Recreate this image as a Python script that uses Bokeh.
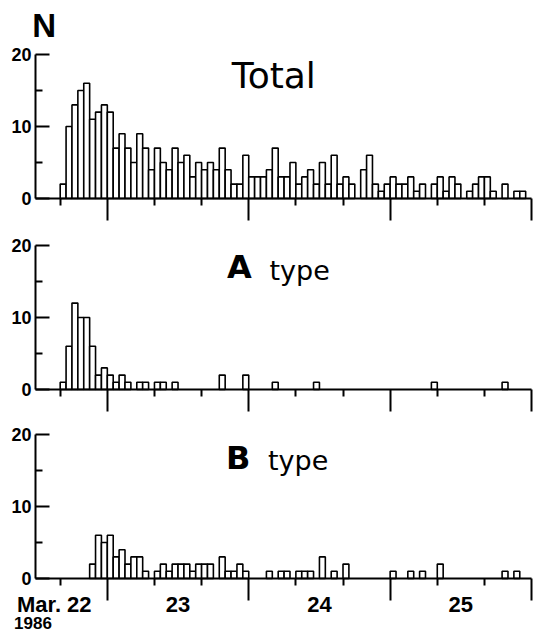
from bokeh.plotting import figure
from bokeh.layouts import column
from bokeh.models import Range1d, FixedTicker, Label, ColumnDataSource, LinearAxis
from bokeh.embed import file_html
from bokeh.resources import INLINE

# hourly bins (start hour; hour 0 = Mar. 23, 00:00)
hours = list(range(-8, 72))

total = [2, 10, 13, 15, 16, 11, 12, 13, 12, 7,
         9, 7, 5, 9, 7, 4, 7, 5, 4, 7,
         5, 6, 3, 5, 4, 5, 4, 7, 4, 2,
         2, 6, 3, 3, 3, 4, 7, 3, 3, 5,
         2, 3, 4, 2, 5, 2, 6, 2, 3, 2,
         0, 4, 6, 2, 1, 2, 3, 2, 2, 3,
         1, 2, 0, 2, 3, 1, 3, 2, 0, 1,
         2, 3, 3, 1, 0, 2, 0, 1, 1, 0]

a_type = [1, 6, 12, 10, 10, 6, 2, 3, 2, 1,
          2, 1, 0, 1, 1, 0, 1, 1, 0, 1,
          0, 0, 0, 0, 0, 0, 0, 2, 0, 0,
          0, 2, 0, 0, 0, 0, 1, 0, 0, 0,
          0, 0, 0, 1, 0, 0, 0, 0, 0, 0,
          0, 0, 0, 0, 0, 0, 0, 0, 0, 0,
          0, 0, 0, 1, 0, 0, 0, 0, 0, 0,
          0, 0, 0, 0, 0, 1, 0, 0, 0, 0]

b_type = [0, 0, 0, 0, 0, 2, 6, 5, 6, 3,
          4, 2, 3, 3, 1, 0, 1, 2, 1, 2,
          2, 2, 1, 2, 2, 2, 0, 3, 1, 1,
          2, 1, 0, 0, 0, 1, 0, 1, 1, 0,
          1, 1, 1, 0, 3, 0, 1, 0, 2, 0,
          0, 0, 0, 0, 0, 0, 1, 0, 0, 1,
          0, 1, 0, 0, 2, 0, 0, 0, 0, 0,
          0, 0, 0, 0, 0, 1, 0, 1, 0, 0]

day_ticks = [-9, 12, 36, 60]
day_labels = ["Mar. 22", "23", "24", "25"]
major_x = [0, 24, 48, 72]
minor_x = [-8, 8, 16, 32, 40, 56, 64]
y_major = [0, 10, 20]
y_minor = [5, 15]

W = 534
X_LO, X_HI = -18.13, 72.50
AXIS_X = -12.19


def panel(values, height, y_lo, y_hi):
    p = figure(width=W, height=height, output_backend="svg", toolbar_location=None,
               x_range=Range1d(X_LO, X_HI), y_range=Range1d(y_lo, y_hi),
               x_axis_type=None, y_axis_type=None,
               min_border=0, min_border_left=0, min_border_right=0,
               min_border_top=0, min_border_bottom=0)
    p.outline_line_color = None
    p.grid.visible = False
    p.background_fill_color = "white"
    p.border_fill_color = "white"
    src = ColumnDataSource(dict(
        left=[h for h, v in zip(hours, values) if v > 0],
        right=[h + 1 for h, v in zip(hours, values) if v > 0],
        top=[v for v in values if v > 0]))
    p.quad(left="left", right="right", bottom=0, top="top", source=src,
           fill_color="white", line_color="black", line_width=1.6)

    xa = LinearAxis(fixed_location=0, bounds=(AXIS_X, 72))
    xa.ticker = FixedTicker(ticks=major_x, minor_ticks=minor_x)
    xa.axis_line_width = 2
    xa.major_tick_line_width = 2
    xa.minor_tick_line_width = 2
    xa.major_tick_in = 0
    xa.major_tick_out = 22
    xa.minor_tick_in = 0
    xa.minor_tick_out = 7
    xa.major_label_overrides = {t: "" for t in major_x}
    p.add_layout(xa, "below")

    ya = LinearAxis(fixed_location=AXIS_X, bounds=(0, 20))
    ya.ticker = FixedTicker(ticks=y_major, minor_ticks=y_minor)
    ya.axis_line_width = 2
    ya.major_tick_line_width = 2
    ya.minor_tick_line_width = 2
    ya.major_tick_in = 14
    ya.major_tick_out = 0
    ya.minor_tick_in = 7
    ya.minor_tick_out = 0
    ya.major_label_standoff = 4
    ya.major_label_text_font = "Liberation Sans"
    ya.major_label_text_font_style = "bold"
    ya.major_label_text_font_size = "18px"
    ya.major_label_text_color = "black"
    p.add_layout(ya, "left")
    return p


def label(p, x, y, text, font, size, bold=False, align="left"):
    p.add_layout(Label(x=x, y=y, text=text, text_font=font,
                       text_font_style="bold" if bold else "normal",
                       text_font_size=size, text_align=align,
                       text_baseline="bottom", text_color="black"))


p1 = panel(total, 228, -4.167, 27.5)
p2 = panel(a_type, 191, -4.167, 22.36)
p3 = panel(b_type, 214, -7.64, 22.08)

# day labels as a second, tick-less axis at the same baseline
da = LinearAxis(fixed_location=0)
da.ticker = FixedTicker(ticks=day_ticks, minor_ticks=[])
da.major_label_overrides = dict(zip(day_ticks, day_labels))
da.axis_line_color = None
da.major_tick_line_color = None
da.minor_tick_line_color = None
da.major_tick_in = 0
da.major_tick_out = 0
da.major_label_standoff = 14
da.major_label_text_font = "Liberation Sans"
da.major_label_text_font_style = "bold"
da.major_label_text_font_size = "22px"
da.major_label_text_color = "black"
p3.add_layout(da, "below")

label(p1, -12.75, 21.44, "N", "Liberation Sans", "33px", bold=True)
label(p1, 28.26, 14.28, "Total", "DejaVu Sans", "36px", align="center")

label(p2, 20.32, 14.31, "A", "DejaVu Sans", "32px", bold=True)
label(p2, 27.53, 14.44, "type", "DejaVu Sans", "27px")

label(p3, 20.15, 14.14, "B", "DejaVu Sans", "32px", bold=True)
label(p3, 27.26, 14.28, "type", "DejaVu Sans", "27px")

label(p3, -15.82, -7.0, "1986", "Liberation Sans", "17px", bold=True)

layout = column(p1, p2, p3)
open("out.html", "w").write(file_html(layout, INLINE))
